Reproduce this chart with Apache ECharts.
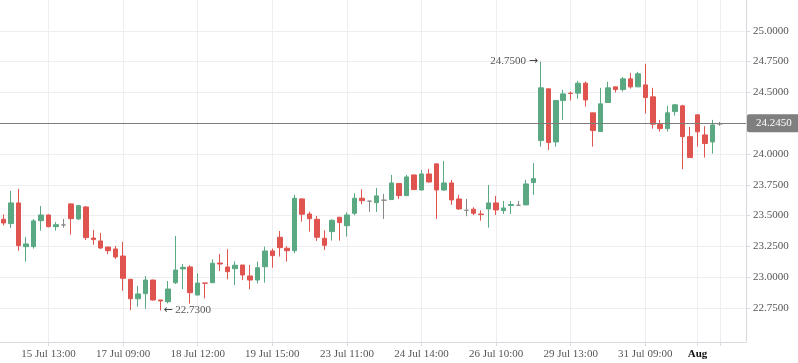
<!DOCTYPE html>
<html>
<head>
<meta charset="utf-8">
<script src="https://cdn.jsdelivr.net/npm/echarts@6/dist/echarts.min.js"></script>
<style>
html,body{margin:0;padding:0;background:#fff;}
#c{width:798px;height:363px;}
</style>
</head>
<body>
<div id="c"></div>
<script>
// OHLC per bar
const opens = [23.47,23.435,23.603,23.248,23.248,23.459,23.505,23.41,23.424,23.595,
23.473,23.57,23.318,23.294,23.245,23.229,23.172,22.983,22.825,22.866,
22.977,22.815,22.801,22.955,23.067,23.083,22.855,22.953,22.955,23.115,
23.083,23.069,23.099,23.01,22.977,23.085,23.213,23.324,23.235,23.215,
23.635,23.513,23.47,23.316,23.37,23.487,23.418,23.519,23.641,23.617,
23.605,23.625,23.63,23.76,23.662,23.83,23.708,23.838,23.92,23.708,
23.765,23.635,23.543,23.552,23.513,23.554,23.603,23.54,23.582,23.584,
23.587,23.768,24.109,24.529,24.098,24.434,24.494,24.494,24.575,24.334,
24.182,24.418,24.545,24.523,24.61,24.545,24.561,24.464,24.239,24.206,
24.344,24.391,24.141,24.318,24.155,24.098,24.245];
const highs = [23.51,23.70,23.717,23.327,23.473,23.578,23.51,23.448,23.473,23.60,
23.587,23.578,23.383,23.359,23.245,23.253,23.286,22.985,22.929,23.01,
22.98,22.815,22.969,23.335,23.107,23.097,23.032,22.953,23.145,23.188,
23.227,23.129,23.099,23.099,23.126,23.248,23.232,23.375,23.251,23.668,
23.641,23.532,23.497,23.381,23.47,23.487,23.527,23.682,23.714,23.62,
23.725,23.676,23.83,23.765,23.83,23.83,23.871,23.879,23.92,23.944,
23.79,23.668,23.635,23.568,23.543,23.749,23.66,23.619,23.619,23.619,
23.79,23.925,24.75,24.529,24.439,24.521,24.507,24.594,24.588,24.334,
24.537,24.586,24.545,24.624,24.659,24.667,24.732,24.537,24.277,24.391,
24.407,24.399,24.22,24.318,24.226,24.277,24.26];
const lows = [23.42,23.40,23.215,23.126,23.232,23.378,23.405,23.378,23.402,23.345,
23.465,23.302,23.264,23.229,23.188,23.148,22.89,22.733,22.76,22.744,
22.81,22.73,22.788,22.945,22.904,22.785,22.855,22.829,22.955,23.05,
22.983,22.937,22.977,22.902,22.95,22.955,23.077,23.167,23.126,23.194,
23.451,23.37,23.294,23.221,23.297,23.297,23.329,23.503,23.592,23.53,
23.53,23.473,23.627,23.635,23.66,23.711,23.703,23.768,23.473,23.70,
23.587,23.546,23.495,23.503,23.459,23.402,23.505,23.513,23.513,23.584,
23.587,23.668,24.06,24.033,24.06,24.277,24.434,24.448,24.385,24.06,
24.18,24.418,24.499,24.507,24.531,24.545,24.328,24.206,24.182,24.182,
24.312,23.877,23.971,24.06,23.971,24.003,24.229];
const closes = [23.44,23.603,23.256,23.27,23.457,23.505,23.41,23.426,23.424,23.475,
23.581,23.321,23.305,23.237,23.215,23.164,22.991,22.825,22.864,22.977,
22.815,22.807,22.904,23.058,23.08,22.874,22.953,22.951,23.113,23.107,
23.045,23.097,23.018,22.977,23.077,23.213,23.175,23.24,23.215,23.641,
23.511,23.475,23.324,23.259,23.462,23.443,23.505,23.641,23.621,23.617,
23.66,23.625,23.765,23.662,23.814,23.711,23.838,23.773,23.708,23.765,
23.627,23.554,23.543,23.519,23.508,23.603,23.546,23.562,23.59,23.584,
23.757,23.80,24.537,24.093,24.434,24.488,24.491,24.575,24.439,24.19,
24.407,24.537,24.523,24.61,24.545,24.651,24.458,24.242,24.206,24.334,
24.399,24.141,23.971,24.18,24.085,24.236,24.245];

// x-axis tick positions (bar index) and their labels
const tickIndex = [6,16,26,36,46,56,66,76,86,93,96];
const tickText = ['15 Jul 13:00','17 Jul 09:00','18 Jul 12:00','19 Jul 15:00','23 Jul 11:00',
  '24 Jul 14:00','26 Jul 10:00','29 Jul 13:00','31 Jul 09:00','Aug',''];
const slotCount = 100; // bars + empty right margin slots
// y-axis tick values
const yTicks = [22.75,23.0,23.25,23.5,23.75,24.0,24.25,24.5,24.75,25.0];
const yMin = 22.474, yMax = 25.25;

const lastPrice = closes[closes.length - 1];
const categories = Array.from({length: slotCount}, (_, i) => String(i));
const candleData = opens.map((o, i) => [o, closes[i], lows[i], highs[i]]);
const tickMap = {};
tickIndex.forEach((idx, k) => { tickMap[idx] = tickText[k]; });
const isTick = (i) => Object.prototype.hasOwnProperty.call(tickMap, i);

const green = '#5aa983', red = '#e0544f';
const gridColor = '#eceef1', axisColor = '#d6d9de';
const axisFont = 'Liberation Serif';

const chart = echarts.init(document.getElementById('c'), null, {renderer: 'canvas'});
chart.setOption({
  animation: false,
  backgroundColor: '#ffffff',
  grid: {left: 0, right: 52, top: 0, bottom: 21, containLabel: false},
  xAxis: {
    type: 'category',
    data: categories,
    boundaryGap: true,
    axisLine: {show: true, lineStyle: {color: axisColor}},
    axisTick: {show: true, alignWithLabel: true, interval: (i) => isTick(i), length: 4, lineStyle: {color: axisColor}},
    axisLabel: {
      interval: (i) => isTick(i),
      formatter: (v, i) => { const t = tickMap[+v]; return t === 'Aug' ? '{b|Aug}' : (t || ''); },
      color: '#555', fontFamily: axisFont, fontSize: 11, margin: 7,
      rich: {b: {color: '#111', fontFamily: axisFont, fontSize: 11, fontWeight: 'bold'}}
    },
    splitLine: {show: true, alignWithLabel: true, interval: (i) => isTick(i), lineStyle: {color: gridColor}}
  },
  yAxis: {
    type: 'value',
    position: 'right',
    min: yMin, max: yMax,
    axisLine: {show: true, lineStyle: {color: axisColor}},
    axisTick: {show: true, length: 4, customValues: yTicks, lineStyle: {color: axisColor}},
    axisLabel: {customValues: yTicks, formatter: (v) => Number(v).toFixed(4), color: '#555', fontFamily: axisFont, fontSize: 11, margin: 7},
    splitLine: {show: true, lineStyle: {color: gridColor}}
  },
  series: [{
    type: 'candlestick',
    data: candleData,
    barWidth: 5,
    itemStyle: {color: green, color0: red, borderColor: green, borderColor0: red, borderColorDoji: '#888888', borderWidth: 1},
    emphasis: {disabled: true},
    markLine: {
      silent: true,
      symbol: ['none', 'none'],
      data: [{yAxis: lastPrice}],
      lineStyle: {color: '#7d7d7d', width: 1, type: 'solid'},
      label: {
        position: 'end', distance: 1,
        formatter: () => lastPrice.toFixed(4),
        backgroundColor: '#7f7f7f', color: '#fff', padding: [4, 9, 3, 9], borderRadius: 2,
        fontFamily: axisFont, fontSize: 11
      }
    },
    markPoint: {
      silent: true,
      symbol: 'circle', symbolSize: 0,
      data: [
        {type: 'max', valueDim: 'highest', label: {position: 'left', distance: 3, formatter: (p) => Number(p.value).toFixed(4) + ' {a|\u2192}'}},
        {type: 'min', valueDim: 'lowest', label: {position: 'right', distance: 3, formatter: (p) => '{a|\u2190} ' + Number(p.value).toFixed(4)}}
      ],
      label: {color: '#555', fontSize: 11, fontFamily: axisFont,
        rich: {a: {color: '#444', fontSize: 11, fontFamily: 'DejaVu Sans'}}}
    }
  }]
});
</script>
</body>
</html>
